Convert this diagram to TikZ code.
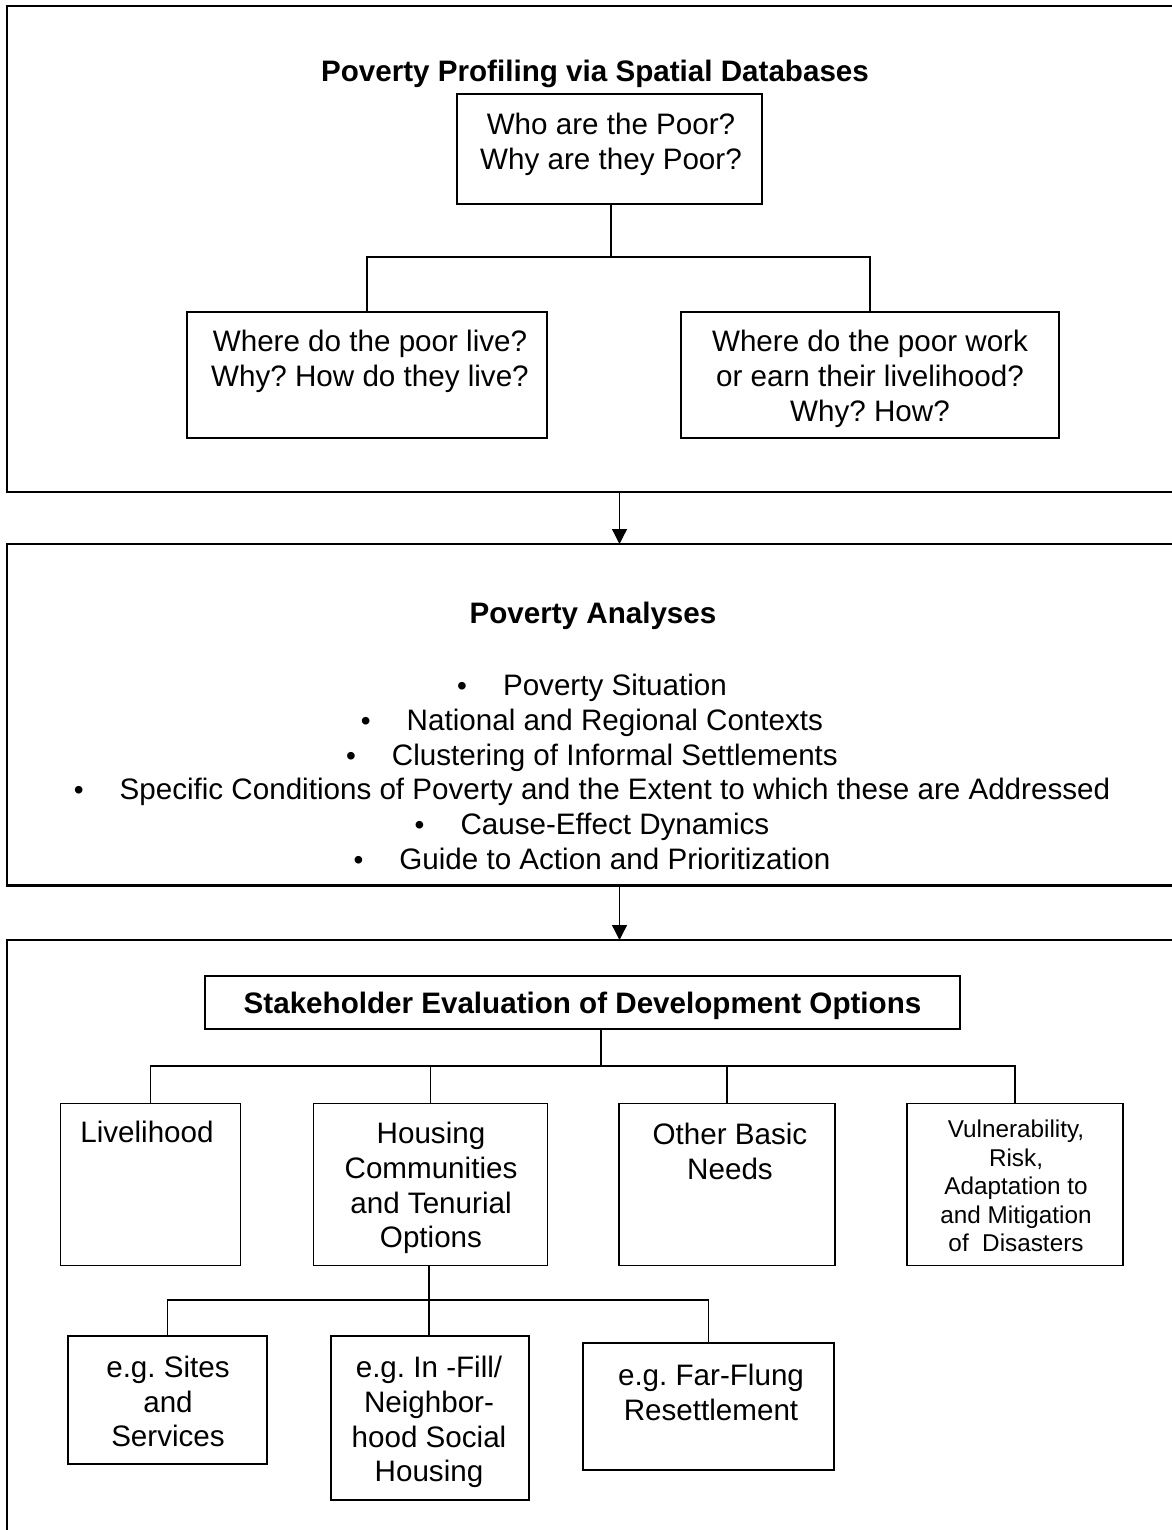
\documentclass[tikz,border=0pt]{standalone}
\usepackage{fontspec}
\setmainfont{Liberation Sans}
\usetikzlibrary{arrows.meta}
\newcommand\mybul{{\fontsize{28}{28}\selectfont\textbullet}\hspace{36pt}}
\begin{document}
\frenchspacing
\begin{tikzpicture}[x=1pt,y=-1pt,
  outerbox/.style={draw,line width=2.2pt,inner sep=0pt,outer sep=0pt},
  box/.style={draw,line width=1.8pt,inner sep=0pt,outer sep=0pt},
  conn/.style={line width=1.3pt},
  arr/.style={line width=1.3pt,-{Triangle[length=15pt,width=15pt]}},
  txt/.style={align=center,inner sep=0pt,font=\fontsize{29.6}{34.7}\selectfont\frenchspacing},
  stxt/.style={align=center,inner sep=0pt,font=\fontsize{24.3}{28.6}\selectfont\frenchspacing},
  btxt/.style={align=center,inner sep=0pt,font=\fontsize{29.6}{34.7}\selectfont\bfseries}]
\useasboundingbox (0,0) rectangle (1171,1530);
% outer panels
\node[outerbox,minimum width=1178pt,minimum height=486pt] (P1) at (596,249) {};
\node[outerbox,minimum width=1178pt,minimum height=341.5pt] (P2) at (596,714.75) {};
\node[outerbox,minimum width=1178pt,minimum height=620pt] (P3) at (596,1250) {};
\coordinate (ax) at (619.5,0);
\draw[arr] (P1.south -| ax) -- (P2.north -| ax);
\draw[arr] (P2.south -| ax) -- (P3.north -| ax);
% panel 1
\node[btxt] (t1) at (595,74) {Poverty Profiling via Spatial Databases};
\node[box,minimum width=305pt,minimum height=110pt] (who) at (609.5,149) {};
\node[txt] (whoT) at (611,144.5) {Who are the Poor?\\Why are they Poor?};
\node[box,minimum width=360pt,minimum height=126pt] (left) at (367,375) {};
\node[txt] (leftT) at (370,361.5) {Where do the poor live?\\Why? How do they live?};
\node[box,minimum width=378pt,minimum height=126pt] (right) at (870,375) {};
\node[txt] (rightT) at (870,379) {Where do the poor work\\or earn their livelihood?\\Why? How?};
\coordinate (j1) at (611,257);
\draw[conn] (who.south -| j1) -- (j1);
\draw[conn] (left.north) |- (right.north |- j1) -- (right.north);
% panel 2
\node[btxt] (t2) at (593,616) {Poverty Analyses};
\node[txt] (bul) at (592,772) {%
\mybul Poverty Situation\\
\mybul National and Regional Contexts\\
\mybul Clustering of Informal Settlements\\
\mybul Specific Conditions of Poverty and the Extent to which these are Addressed\\
\mybul Cause-Effect Dynamics\\
\mybul Guide to Action and Prioritization};
% panel 3
\node[box,minimum width=755pt,minimum height=53pt] (stake) at (582.5,1002.5) {};
\node[btxt] (stakeT) at (582.5,1005.5) {Stakeholder Evaluation of Development Options};
\node[box,minimum width=180pt,minimum height=162pt] (live) at (150.5,1184.5) {};
\node[txt] (liveT) at (147,1132) {Livelihood};
\node[box,minimum width=234pt,minimum height=162pt] (housing) at (430.5,1184.5) {};
\node[txt] (housingT) at (431,1188) {Housing\\Communities\\and Tenurial\\Options};
\node[box,minimum width=216pt,minimum height=162pt] (other) at (727,1184.5) {};
\node[txt] (otherT) at (730,1151.5) {Other Basic\\Needs};
\node[box,minimum width=216pt,minimum height=162pt] (vuln) at (1015,1184.5) {};
\node[stxt] (vulnT) at (1016,1186) {Vulnerability,\\Risk,\\Adaptation to\\and Mitigation\\of~\ Disasters};
\coordinate (j2) at (601,1066);
\draw[conn] (stake.south -| j2) -- (j2);
\draw[conn] (live.north) |- (vuln.north |- j2) -- (vuln.north);
\draw[conn] (housing.north) -- (housing.north |- j2);
\draw[conn] (other.north) -- (other.north |- j2);
\node[box,minimum width=199pt,minimum height=128pt] (sites) at (167.5,1400) {};
\node[txt] (sitesT) at (168,1401.5) {e.g. Sites\\and\\Services};
\node[box,minimum width=198pt,minimum height=164pt] (infill) at (430,1418) {};
\node[txt] (infillT) at (429,1422) {e.g. In -Fill/\\Neighbor-\\hood Social\\Housing};
\node[box,minimum width=251pt,minimum height=127pt] (far) at (708.5,1406.5) {};
\node[txt] (farT) at (711,1392.5) {e.g. Far-Flung\\Resettlement};
\coordinate (j3) at (429,1300);
\draw[conn] (housing.south -| j3) -- (infill.north -| j3);
\draw[conn] (sites.north) |- (far.north |- j3) -- (far.north);
\end{tikzpicture}
\end{document}
